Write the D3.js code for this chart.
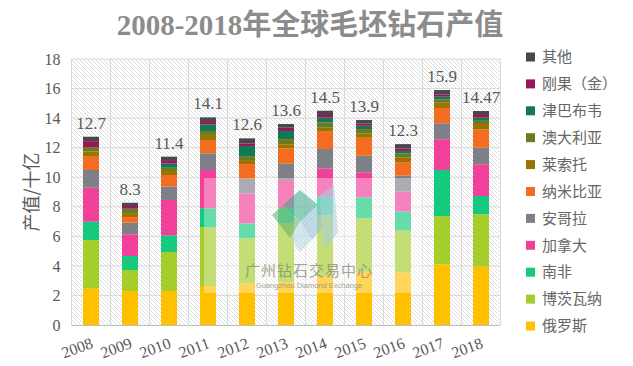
<!DOCTYPE html>
<html><head><meta charset="utf-8">
<script src="https://cdn.jsdelivr.net/npm/d3@7"></script>
<style>html,body{margin:0;padding:0;background:#fff;}svg{display:block;}</style>
</head><body>
<svg id="chart" width="633" height="366"></svg>
<script>
const years = ["2008","2009","2010","2011","2012","2013","2014","2015","2016","2017","2018"];
const totalLabels = ["12.7","8.3","11.4","14.1","12.6","13.6","14.5","13.9","12.3","15.9","14.47"];
const yTicks = [0,2,4,6,8,10,12,14,16,18];
const seriesNames = ["俄罗斯","博茨瓦纳","南非","加拿大","安哥拉","纳米比亚","莱索托","澳大利亚","津巴布韦","刚果（金）","其他"];
const seriesColors = ["#ffc000","#a5cd2b","#15c97e","#f0409a","#7f7f88","#f36c20","#9b7300","#6c7b22","#107a50","#9c1459","#4a474c"];
const russia      = [2.46, 2.30, 2.30, 2.64, 2.82, 2.90, 3.30, 3.60, 3.54, 4.11, 3.94];
const botswana    = [3.29, 1.42, 2.64, 3.97, 3.05, 3.98, 4.14, 3.62, 2.85, 3.26, 3.55];
const southAfrica = [1.24, 0.95, 1.13, 1.29, 1.01, 1.02, 1.24, 1.42, 1.28, 3.12, 1.24];
const canada      = [2.30, 1.47, 2.39, 2.59, 2.03, 1.91, 1.92, 1.69, 1.35, 2.08, 2.15];
const angola      = [1.20, 0.79, 0.90, 1.13, 0.97, 1.13, 1.31, 1.12, 1.10, 1.08, 1.12];
const namibia     = [0.90, 0.37, 0.79, 0.90, 1.01, 1.02, 1.17, 1.22, 0.90, 1.03, 1.24];
const lesotho     = [0.35, 0.27, 0.27, 0.34, 0.27, 0.27, 0.27, 0.30, 0.30, 0.36, 0.36];
const australia   = [0.30, 0.30, 0.22, 0.27, 0.27, 0.35, 0.36, 0.29, 0.30, 0.22, 0.27];
const zimbabwe    = [0.00, 0.00, 0.30, 0.45, 0.68, 0.55, 0.32, 0.22, 0.16, 0.19, 0.16];
const congo       = [0.40, 0.18, 0.22, 0.22, 0.18, 0.22, 0.18, 0.16, 0.17, 0.16, 0.18];
const others      = [0.30, 0.22, 0.23, 0.25, 0.34, 0.25, 0.29, 0.23, 0.29, 0.29, 0.27];
const seriesValues = [russia, botswana, southAfrica, canada, angola, namibia, lesotho, australia, zimbabwe, congo, others];

const table = years.map((yr, i) => {
  const row = {year: yr};
  seriesNames.forEach((n, k) => row[n] = seriesValues[k][i]);
  return row;
});

const svg = d3.select("#chart");
const pLeft = 71.5, pRight = 500.5, pTop = 59, pBottom = 325;
const x = d3.scaleBand().domain(years).range([pLeft, pRight]).paddingInner(0.59).paddingOuter(0.295);
const y = d3.scaleLinear().domain([0, 18]).range([pBottom, pTop]);
const textColor = "#595959";

const defs = svg.append("defs");
const pat = defs.append("pattern").attr("id","hatch").attr("patternUnits","userSpaceOnUse").attr("width",4).attr("height",4);
pat.append("rect").attr("width",4).attr("height",4).attr("fill","#fff");
pat.append("path").attr("d","M-1,3 l2,2 M0,0 l4,4 M3,-1 l2,2").attr("stroke","#d4d4d4").attr("stroke-width",0.8);

svg.append("rect").attr("x", pLeft).attr("y", pTop).attr("width", pRight-pLeft).attr("height", pBottom-pTop).attr("fill","url(#hatch)");

svg.append("g").selectAll("line").data(yTicks.slice(1)).join("line")
  .attr("x1", pLeft).attr("x2", pRight).attr("y1", d => y(d)).attr("y2", d => y(d))
  .attr("stroke","#d9d9d9").attr("stroke-width",1);
svg.append("g").selectAll("line").data(d3.range(years.length + 1)).join("line")
  .attr("x1", i => pLeft + i*x.step()).attr("x2", i => pLeft + i*x.step())
  .attr("y1", pTop).attr("y2", pBottom).attr("stroke","#d9d9d9").attr("stroke-width",1);

const stack = d3.stack().keys(seriesNames)(table);
svg.append("g").selectAll("g").data(stack).join("g")
  .attr("fill", (d,i) => seriesColors[i])
  .selectAll("rect").data(d => d).join("rect")
  .attr("x", d => x(d.data.year)).attr("width", x.bandwidth())
  .attr("y", d => y(d[1])).attr("height", d => Math.max(0, y(d[0]) - y(d[1])));

// watermark
const wm = svg.append("g");
wm.append("rect").attr("x",204).attr("y",178).attr("width",221).attr("height",115).attr("fill","#fff").attr("opacity",0.35);
const logo = wm.append("g").attr("opacity",0.55);
logo.append("polygon").attr("points","283,205 300,190 318,205 300,222").attr("fill","#3aa88a");
logo.append("polygon").attr("points","300,222 318,205 330,218 312,240").attr("fill","#8fc0d8");
logo.append("polygon").attr("points","272,215 283,205 300,222 290,238").attr("fill","#5fb36a");
logo.append("polygon").attr("points","320,195 334,185 338,232 326,248 322,240").attr("fill","#a9cfe3");
logo.append("polygon").attr("points","290,238 300,222 312,240 300,252").attr("fill","#b6d6e8");
wm.append("text").attr("x",309).attr("y",276).attr("text-anchor","middle")
  .attr("font-family","Noto Sans CJK SC").attr("font-size",15).attr("fill","#8c9078").attr("opacity",0.8)
  .attr("letter-spacing",1).text("广州钻石交易中心");
wm.append("text").attr("x",309).attr("y",288).attr("text-anchor","middle")
  .attr("font-family","Liberation Sans").attr("font-size",7.5).attr("fill","#8c9078").attr("opacity",0.8)
  .text("Guangzhou Diamond Exchange");

svg.append("line").attr("x1",pLeft).attr("x2",pRight).attr("y1",pBottom+0.5).attr("y2",pBottom+0.5).attr("stroke","#bfbfbf");

const yAxis = d3.axisLeft(y).tickValues(yTicks).tickSize(0).tickPadding(0);
const yg = svg.append("g").attr("transform",`translate(${pLeft-11},0)`).call(yAxis);
yg.select(".domain").remove();
yg.selectAll("text").attr("font-family","Liberation Serif").attr("font-size",16).attr("fill",textColor);

const xAxis = d3.axisBottom(x).tickSize(0).tickPadding(0);
const xg = svg.append("g").attr("transform",`translate(0,${pBottom})`).call(xAxis);
xg.select(".domain").remove();
xg.selectAll("text").attr("font-family","Liberation Serif").attr("font-size",16).attr("fill",textColor)
  .attr("text-anchor","middle").attr("dy",null).attr("y",0)
  .attr("transform","translate(-12,28) rotate(-20)");

const totals = years.map((yr,i) => d3.sum(seriesValues, s => s[i]));
svg.append("g").selectAll("text").data(years).join("text")
  .attr("x", d => x(d) + x.bandwidth()/2).attr("y", (d,i) => y(totals[i]) - 8)
  .attr("text-anchor","middle").attr("font-family","Liberation Serif").attr("font-size",17).attr("fill",textColor)
  .text((d,i) => totalLabels[i]);

svg.append("text").attr("transform","translate(38,192) rotate(-90)").attr("text-anchor","middle")
  .attr("font-family","Noto Sans CJK SC").attr("font-size",18).attr("fill",textColor).text("产值/十亿");

svg.append("text").attr("x",310).attr("y",35).attr("text-anchor","middle")
  .attr("font-family","Liberation Serif, Noto Sans CJK SC").attr("font-weight","bold").attr("font-size",29).attr("fill","#8c8c8c")
  .text("2008-2018年全球毛坯钻石产值");

const legendOrder = seriesNames.map((n,i)=>i).reverse();
const lg = svg.append("g").selectAll("g").data(legendOrder).join("g")
  .attr("transform",(d,j)=>`translate(526,${57 + j*26.9})`);
lg.append("rect").attr("x",0).attr("y",-4.5).attr("width",9).attr("height",9).attr("fill", d => seriesColors[d]);
lg.append("text").attr("x",16).attr("y",0).attr("dy","0.35em")
  .attr("font-family","Noto Sans CJK SC").attr("font-size",15).attr("fill","#666")
  .text(d => seriesNames[d]);
</script>
</body></html>
